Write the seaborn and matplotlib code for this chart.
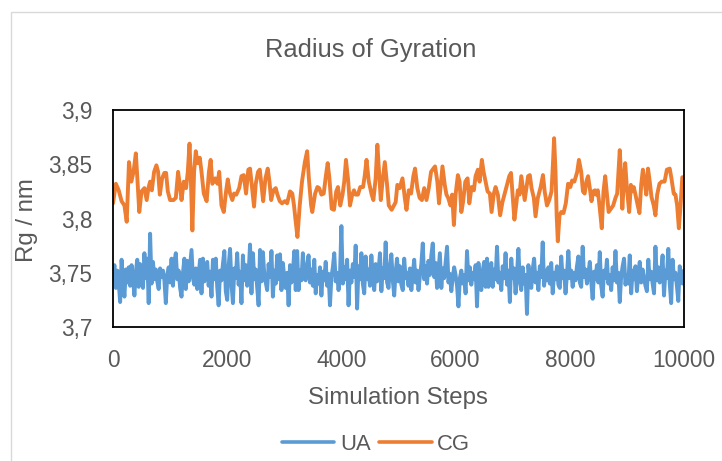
import matplotlib
matplotlib.use("Agg")
import matplotlib.pyplot as plt
from matplotlib.patches import Rectangle
from matplotlib.lines import Line2D
from matplotlib.ticker import FuncFormatter
import pandas as pd
import seaborn as sns

# ---- data -------------------------------------------------------------
ua_steps = list(range(0, 10001, 25))
ua_rg = [
    3.748, 3.757, 3.736, 3.752, 3.741, 3.723, 3.762, 3.744, 3.728, 3.753,
    3.741, 3.755, 3.738, 3.757, 3.745, 3.729, 3.751, 3.762, 3.737, 3.758,
    3.744, 3.736, 3.768, 3.745, 3.763, 3.722, 3.786, 3.740, 3.760, 3.744,
    3.753, 3.742, 3.735, 3.754, 3.746, 3.752, 3.743, 3.722, 3.748, 3.755,
    3.741, 3.763, 3.738, 3.760, 3.768, 3.744, 3.752, 3.736, 3.728, 3.750,
    3.763, 3.735, 3.761, 3.742, 3.756, 3.771, 3.745, 3.739, 3.754, 3.735,
    3.749, 3.762, 3.731, 3.763, 3.742, 3.755, 3.760, 3.738, 3.751, 3.728,
    3.762, 3.744, 3.763, 3.737, 3.720, 3.752, 3.743, 3.758, 3.770, 3.733,
    3.725, 3.756, 3.772, 3.740, 3.722, 3.754, 3.745, 3.768, 3.739, 3.751,
    3.722, 3.766, 3.743, 3.757, 3.738, 3.749, 3.776, 3.731, 3.768, 3.744,
    3.753, 3.737, 3.720, 3.771, 3.742, 3.769, 3.748, 3.741, 3.734, 3.758,
    3.746, 3.770, 3.728, 3.752, 3.740, 3.766, 3.744, 3.767, 3.734, 3.759,
    3.745, 3.736, 3.750, 3.720, 3.757, 3.741, 3.750, 3.770, 3.734, 3.770,
    3.734, 3.752, 3.743, 3.768, 3.745, 3.743, 3.757, 3.766, 3.741, 3.753,
    3.738, 3.762, 3.731, 3.748, 3.740, 3.755, 3.729, 3.751, 3.743, 3.760,
    3.738, 3.749, 3.720, 3.746, 3.755, 3.768, 3.742, 3.750, 3.734, 3.748,
    3.793, 3.740, 3.755, 3.744, 3.762, 3.720, 3.752, 3.741, 3.758, 3.746,
    3.775, 3.717, 3.756, 3.744, 3.768, 3.740, 3.731, 3.765, 3.744, 3.753,
    3.738, 3.766, 3.745, 3.734, 3.758, 3.742, 3.751, 3.768, 3.733, 3.754,
    3.745, 3.778, 3.741, 3.736, 3.755, 3.767, 3.743, 3.729, 3.751, 3.763,
    3.742, 3.756, 3.739, 3.734, 3.763, 3.745, 3.750, 3.738, 3.754, 3.734,
    3.749, 3.762, 3.741, 3.752, 3.734, 3.747, 3.758, 3.777, 3.744, 3.756,
    3.740, 3.761, 3.748, 3.766, 3.777, 3.746, 3.759, 3.736, 3.752, 3.768,
    3.736, 3.754, 3.745, 3.760, 3.774, 3.741, 3.749, 3.733, 3.746, 3.755,
    3.748, 3.738, 3.719, 3.745, 3.752, 3.740, 3.748, 3.731, 3.770, 3.743,
    3.755, 3.739, 3.750, 3.744, 3.757, 3.719, 3.759, 3.742, 3.734, 3.752,
    3.760, 3.737, 3.763, 3.737, 3.750, 3.759, 3.737, 3.753, 3.744, 3.774,
    3.741, 3.750, 3.734, 3.756, 3.745, 3.768, 3.739, 3.752, 3.723, 3.763,
    3.745, 3.754, 3.731, 3.749, 3.772, 3.742, 3.734, 3.755, 3.740, 3.748,
    3.712, 3.757, 3.744, 3.736, 3.753, 3.763, 3.741, 3.750, 3.734, 3.756,
    3.746, 3.778, 3.738, 3.752, 3.743, 3.755, 3.740, 3.759, 3.731, 3.750,
    3.744, 3.756, 3.739, 3.736, 3.765, 3.745, 3.752, 3.731, 3.748, 3.770,
    3.745, 3.752, 3.737, 3.750, 3.743, 3.756, 3.765, 3.741, 3.737, 3.774,
    3.746, 3.753, 3.740, 3.749, 3.760, 3.742, 3.726, 3.751, 3.744, 3.757,
    3.741, 3.769, 3.738, 3.728, 3.752, 3.745, 3.762, 3.740, 3.748, 3.734,
    3.755, 3.743, 3.770, 3.741, 3.750, 3.723, 3.747, 3.756, 3.763, 3.739,
    3.748, 3.740, 3.766, 3.731, 3.752, 3.744, 3.756, 3.733, 3.749, 3.760,
    3.741, 3.753, 3.745, 3.738, 3.733, 3.762, 3.744, 3.751, 3.740, 3.731,
    3.774, 3.743, 3.755, 3.741, 3.750, 3.766, 3.729, 3.752, 3.745, 3.772,
    3.740, 3.722, 3.762, 3.744, 3.750, 3.738, 3.724, 3.756, 3.748, 3.740,
    3.752,
]

cg_steps = [
    0, 50, 100, 150, 200, 240, 280, 320, 360, 400,
    430, 460, 500, 550, 590, 620, 650, 680, 720, 760,
    790, 820, 860, 900, 930, 960, 1000, 1060, 1100, 1140,
    1170, 1200, 1240, 1280, 1310, 1340, 1360, 1390, 1420, 1450,
    1480, 1520, 1550, 1590, 1640, 1680, 1710, 1740, 1790, 1830,
    1860, 1900, 1940, 1980, 2010, 2050, 2090, 2120, 2160, 2210,
    2250, 2290, 2330, 2370, 2400, 2430, 2470, 2500, 2540, 2570,
    2600, 2630, 2670, 2710, 2740, 2770, 2810, 2850, 2880, 2920,
    2960, 3010, 3050, 3100, 3140, 3170, 3200, 3230, 3270, 3310,
    3360, 3400, 3430, 3470, 3490, 3540, 3580, 3610, 3650, 3690,
    3730, 3760, 3790, 3830, 3870, 3910, 3940, 3980, 4020, 4050,
    4080, 4120, 4150, 4190, 4220, 4250, 4290, 4330, 4380, 4410,
    4440, 4480, 4530, 4560, 4600, 4630, 4660, 4690, 4720, 4760,
    4800, 4830, 4880, 4920, 4950, 4980, 5020, 5070, 5110, 5140,
    5180, 5220, 5260, 5290, 5330, 5370, 5410, 5450, 5490, 5530,
    5570, 5610, 5640, 5680, 5710, 5740, 5770, 5810, 5840, 5870,
    5910, 5940, 5970, 6000, 6040, 6070, 6100, 6130, 6170, 6210,
    6240, 6280, 6320, 6350, 6390, 6420, 6460, 6490, 6560, 6600,
    6630, 6670, 6700, 6740, 6780, 6820, 6860, 6900, 6940, 6970,
    6990, 7030, 7060, 7090, 7120, 7150, 7180, 7210, 7240, 7270,
    7300, 7330, 7370, 7400, 7440, 7490, 7530, 7560, 7600, 7640,
    7680, 7710, 7725, 7750, 7770, 7790, 7820, 7850, 7890, 7930,
    7970, 8010, 8040, 8080, 8130, 8160, 8200, 8230, 8260, 8290,
    8320, 8350, 8380, 8410, 8440, 8460, 8490, 8520, 8560, 8590,
    8620, 8650, 8680, 8720, 8760, 8800, 8830, 8860, 8875, 8900,
    8920, 8950, 8970, 9000, 9040, 9070, 9090, 9120, 9150, 9190,
    9220, 9250, 9280, 9310, 9340, 9370, 9400, 9430, 9470, 9500,
    9530, 9570, 9610, 9660, 9700, 9750, 9780, 9820, 9850, 9880,
    9910, 9940, 9970, 10000,
]
cg_rg = [
    3.814, 3.832, 3.826, 3.816, 3.812, 3.797, 3.852, 3.834, 3.843, 3.860,
    3.834, 3.806, 3.825, 3.828, 3.817, 3.828, 3.834, 3.826, 3.843, 3.849,
    3.843, 3.822, 3.837, 3.842, 3.842, 3.825, 3.817, 3.817, 3.819, 3.843,
    3.831, 3.817, 3.834, 3.828, 3.843, 3.869, 3.843, 3.789, 3.843, 3.862,
    3.851, 3.856, 3.843, 3.823, 3.816, 3.843, 3.854, 3.832, 3.837, 3.832,
    3.843, 3.812, 3.806, 3.825, 3.836, 3.823, 3.817, 3.823, 3.822, 3.828,
    3.839, 3.840, 3.823, 3.845, 3.846, 3.831, 3.811, 3.832, 3.843, 3.845,
    3.831, 3.816, 3.837, 3.846, 3.834, 3.817, 3.826, 3.828, 3.822, 3.816,
    3.814, 3.816, 3.814, 3.825, 3.823, 3.812, 3.797, 3.783, 3.812, 3.834,
    3.852, 3.862, 3.837, 3.812, 3.806, 3.823, 3.829, 3.828, 3.822, 3.823,
    3.840, 3.851, 3.837, 3.809, 3.808, 3.825, 3.829, 3.812, 3.822, 3.834,
    3.854, 3.834, 3.812, 3.822, 3.826, 3.822, 3.822, 3.829, 3.829, 3.840,
    3.854, 3.834, 3.822, 3.817, 3.837, 3.868, 3.843, 3.817, 3.834, 3.852,
    3.831, 3.812, 3.808, 3.812, 3.815, 3.831, 3.828, 3.837, 3.819, 3.808,
    3.826, 3.823, 3.839, 3.846, 3.828, 3.819, 3.817, 3.828, 3.817, 3.828,
    3.843, 3.846, 3.848, 3.834, 3.814, 3.831, 3.848, 3.831, 3.822, 3.819,
    3.812, 3.822, 3.794, 3.822, 3.840, 3.834, 3.806, 3.815, 3.834, 3.837,
    3.814, 3.829, 3.826, 3.839, 3.845, 3.834, 3.854, 3.843, 3.825, 3.823,
    3.806, 3.823, 3.829, 3.822, 3.803, 3.815, 3.823, 3.831, 3.839, 3.842,
    3.828, 3.799, 3.812, 3.826, 3.822, 3.839, 3.828, 3.817, 3.828, 3.839,
    3.840, 3.828, 3.819, 3.802, 3.819, 3.829, 3.840, 3.825, 3.812, 3.817,
    3.825, 3.856, 3.874, 3.843, 3.803, 3.779, 3.803, 3.806, 3.805, 3.814,
    3.832, 3.829, 3.835, 3.834, 3.843, 3.854, 3.843, 3.825, 3.823, 3.834,
    3.839, 3.828, 3.816, 3.825, 3.826, 3.822, 3.826, 3.812, 3.791, 3.825,
    3.839, 3.822, 3.806, 3.809, 3.812, 3.819, 3.823, 3.849, 3.863, 3.837,
    3.809, 3.837, 3.851, 3.828, 3.806, 3.831, 3.825, 3.829, 3.822, 3.812,
    3.805, 3.831, 3.845, 3.834, 3.822, 3.846, 3.834, 3.820, 3.812, 3.803,
    3.822, 3.832, 3.834, 3.834, 3.845, 3.846, 3.837, 3.823, 3.822, 3.812,
    3.791, 3.812, 3.838, 3.838,
]

series_names = ["UA", "CG"]
series_colors = ["#5B9BD5", "#ED7D31"]
x_ticks = [0, 2000, 4000, 6000, 8000, 10000]
y_ticks = [3.7, 3.75, 3.8, 3.85, 3.9]

title_text = "Radius of Gyration"
x_label = "Simulation Steps"
y_label = "Rg / nm"

# ---- style ------------------------------------------------------------
sns.set_theme(style="white")
plt.rcParams["font.family"] = ["Liberation Sans", "DejaVu Sans"]
TEXT = "#595959"

W, H = 722, 461
fig = plt.figure(figsize=(W / 100, H / 100), dpi=100)
fig.patch.set_facecolor("white")

# light chart-area border
fig.add_artist(Rectangle((10.5 / W, -0.05), 1.2, 1 - 12.5 / H + 0.05,
                         transform=fig.transFigure, fill=False,
                         edgecolor="#d9d9d9", linewidth=1.0))

left, right, top, bottom = 113, 684, 110, 327
ax = fig.add_axes([left / W, 1 - bottom / H, (right - left) / W, (bottom - top) / H])

frame = pd.concat([
    pd.DataFrame({"step": ua_steps, "rg": ua_rg, "model": series_names[0]}),
    pd.DataFrame({"step": cg_steps, "rg": cg_rg, "model": series_names[1]}),
], ignore_index=True)

palette = dict(zip(series_names, series_colors))
sns.lineplot(data=frame, x="step", y="rg", hue="model", hue_order=series_names,
             palette=palette, estimator=None, sort=False, linewidth=2.8,
             legend=False, ax=ax)
for ln in ax.get_lines():
    ln.set_solid_joinstyle("round")
    ln.set_solid_capstyle("round")

ax.set_xlim(x_ticks[0], x_ticks[-1])
ax.set_ylim(y_ticks[0], y_ticks[-1])
ax.set_xticks(x_ticks)
ax.set_yticks(y_ticks)
ax.yaxis.set_major_formatter(FuncFormatter(lambda v, _: f"{v:g}".replace(".", ",")))
ax.xaxis.set_major_formatter(FuncFormatter(lambda v, _: f"{v:.0f}"))
ax.tick_params(axis="both", length=0, labelsize=16.3, labelcolor=TEXT)
ax.tick_params(axis="y", pad=15)
ax.tick_params(axis="x", pad=16)
ax.set_xlabel("")
ax.set_ylabel("")
ax.grid(False)
for sp in ax.spines.values():
    sp.set_visible(True)
    sp.set_color("black")
    sp.set_linewidth(1.3)
    sp.set_zorder(3)

fig.text(371 / W, 1 - 57 / H, title_text, ha="center", va="baseline",
         fontsize=18.4, color=TEXT)
fig.text(397.5 / W, 1 - 404 / H, x_label, ha="center", va="baseline",
         fontsize=17.3, color=TEXT)
fig.text(27.5 / W, 1 - 220 / H, y_label, ha="center", va="center",
         rotation=90, fontsize=17.3, color=TEXT)

handles = [Line2D([0], [0], color=c, lw=2.6, solid_capstyle="round") for c in series_colors]
fig.legend(handles, series_names, loc="center", bbox_to_anchor=(376 / W, 1 - 444 / H),
           ncol=2, frameon=False, fontsize=15.8, labelcolor=TEXT,
           handlelength=2.4, handletextpad=0.25, columnspacing=0.4)

fig.savefig("out.png", dpi=100)
